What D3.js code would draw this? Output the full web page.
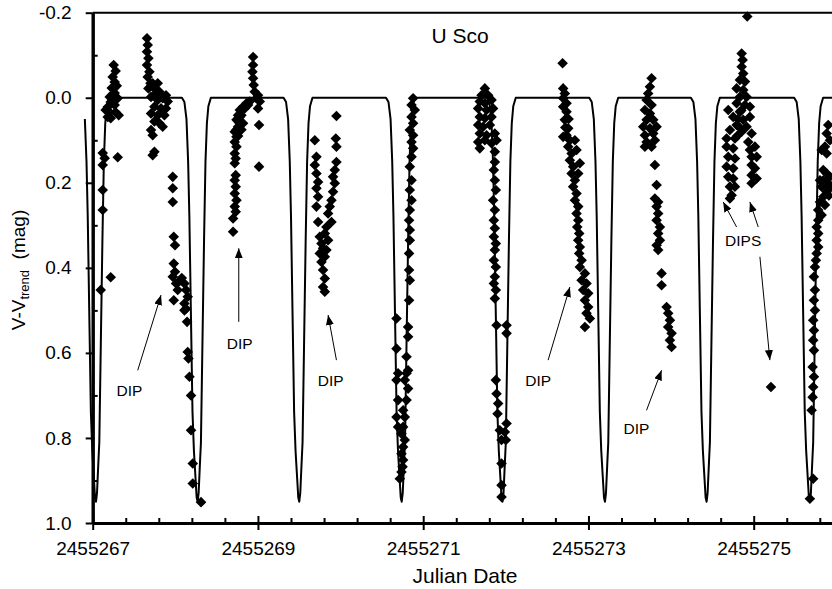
<!DOCTYPE html>
<html>
<head>
<meta charset="utf-8">
<script src="https://cdnjs.cloudflare.com/ajax/libs/d3/7.8.5/d3.min.js"></script>
<style>
body { margin: 0; background: #fff; }
svg { display: block; font-family: "Liberation Sans", Arial, Helvetica, sans-serif; }
</style>
</head>
<body>
<svg id="chart"></svg>
<script>
// all times below are JD - 2455267
var jd0 = 2455267;

var xTicks = [2455267, 2455269, 2455271, 2455273, 2455275];
var yTicks = [-0.2, 0.0, 0.2, 0.4, 0.6, 0.8, 1.0];

// model light curve: times of minimum and the shape of one eclipse [dt, mag]
var minima = [0.04, 1.27, 2.50, 3.74, 4.96, 6.20, 7.43, 8.68, 9.91];
var eclipseShape = [[-0.190,0.00],[-0.160,0.01],[-0.135,0.05],[-0.115,0.15],[-0.100,0.28],[-0.082,0.50],
    [-0.062,0.74],[-0.045,0.83],[-0.030,0.88],[-0.012,0.94],[0,0.95],[0.012,0.93],[0.028,0.86],
    [0.040,0.81],[0.058,0.58],[0.078,0.33],[0.095,0.15],[0.112,0.06],[0.130,0.02],[0.160,0.00]];
var curveStart = -0.1;

// observations [t, V-Vtrend]
var run1 = [[0.254,-0.077],[0.278,-0.063],[0.242,-0.049],[0.266,-0.037],[0.230,-0.023],[0.266,-0.011],[0.206,-0.002],
    [0.303,0.001],[0.218,0.010],[0.182,0.022],[0.266,0.017],[0.278,0.034],[0.206,0.034],[0.157,0.029],[0.315,0.041],
    [0.218,0.048],[0.182,0.045],[0.242,0.005],[0.291,-0.028],
    [0.121,0.130],[0.145,0.142],[0.121,0.158],[0.121,0.217],[0.121,0.264],[0.097,0.452],[0.218,0.422],[0.303,0.140]];
var run2 = [[0.657,-0.140],[0.666,-0.124],[0.657,-0.108],[0.674,-0.093],[0.657,-0.077],[0.686,-0.061],[0.666,-0.049],
    [0.699,-0.034],[0.674,-0.022],[0.726,-0.034],[0.747,-0.022],[0.787,-0.034],[0.766,-0.010],[0.808,-0.014],
    [0.706,-0.002],[0.787,0.005],[0.847,0.001],[0.887,-0.006],[0.908,0.009],[0.747,0.021],[0.827,0.025],[0.887,0.025],
    [0.706,0.037],[0.787,0.041],[0.868,0.041],[0.747,0.056],[0.808,0.060],[0.706,0.076],[0.847,0.068],[0.726,0.088],
    [0.747,0.127],[0.726,0.135],
    [0.969,0.186],[0.969,0.213],[0.969,0.245],[0.981,0.327],[0.996,0.347],[0.981,0.390],[0.996,0.409],[0.969,0.421],
    [1.009,0.437],[0.981,0.476],[1.110,0.437],[1.130,0.452],[1.150,0.468],[1.110,0.484],[1.130,0.496],[1.110,0.500],
    [1.142,0.527],[1.150,0.598],[1.159,0.613],[1.171,0.656],[1.190,0.700],[1.190,0.782],[1.211,0.860],[1.211,0.907],
    [1.311,0.951],[1.053,0.431],[1.078,0.424],[1.029,0.452]];
var run3 = [[1.941,-0.096],[1.941,-0.077],[1.933,-0.061],[1.941,-0.046],[1.949,-0.030],[1.961,-0.014],[1.982,0.001],
    [2.001,-0.006],[2.022,0.009],[2.001,0.025],[2.013,0.064],[2.013,0.162],[1.861,0.013],[1.820,0.021],[1.780,0.029],
    [1.759,0.041],[1.740,0.052],[1.759,0.068],[1.719,0.080],[1.740,0.092],[1.719,0.104],[1.740,0.115],[1.719,0.131],
    [1.731,0.143],[1.719,0.154],[1.731,0.182],[1.719,0.194],[1.731,0.209],[1.719,0.225],[1.740,0.241],[1.719,0.256],
    [1.731,0.268],[1.699,0.284],[1.699,0.315],[1.840,0.025],[1.800,0.041],[1.880,0.017],[1.820,0.060],[1.780,0.060],
    [1.901,0.009],[1.780,0.045],[1.800,0.075],[1.760,0.090],[1.740,0.075]];
var run4 = [[2.950,0.043],[2.942,0.096],[2.950,0.115],[2.688,0.100],[2.708,0.139],[2.688,0.158],[2.708,0.178],
    [2.728,0.198],[2.708,0.213],[2.728,0.233],[2.708,0.256],[2.728,0.292],[2.950,0.151],[2.930,0.170],[2.909,0.186],
    [2.930,0.201],[2.909,0.221],[2.890,0.241],[2.869,0.256],[2.849,0.272],[2.890,0.292],[2.829,0.304],[2.809,0.319],
    [2.748,0.327],[2.769,0.343],[2.788,0.354],[2.748,0.366],[2.809,0.374],[2.769,0.386],[2.788,0.405],[2.809,0.425],
    [2.788,0.445],[2.829,0.358],[2.849,0.335],[2.809,0.456]];
var run5 = [[3.878,0.001],[3.859,0.017],[3.898,0.029],[3.859,0.045],[3.878,0.060],[3.838,0.076],[3.878,0.088],
    [3.859,0.104],[3.878,0.119],[3.859,0.139],[3.838,0.162],[3.859,0.194],[3.838,0.217],[3.859,0.241],[3.838,0.264],
    [3.829,0.288],[3.838,0.311],[3.838,0.335],[3.829,0.366],[3.829,0.405],[3.838,0.429],[3.829,0.476],[3.817,0.539],
    [3.817,0.562],[3.798,0.609],[3.817,0.641],[3.798,0.648],[3.777,0.664],[3.817,0.684],[3.798,0.711],[3.757,0.735],
    [3.777,0.751],[3.757,0.774],[3.737,0.790],[3.777,0.805],[3.757,0.821],[3.737,0.837],[3.757,0.852],[3.750,0.868],
    [3.737,0.880],[3.717,0.896],
    [3.677,0.519],[3.677,0.590],[3.696,0.648],[3.677,0.664],[3.696,0.711],[3.677,0.751],[3.696,0.774]];
var run6 = [[4.746,-0.022],[4.706,-0.006],[4.786,-0.006],[4.685,0.009],[4.746,0.013],[4.827,0.005],[4.665,0.025],
    [4.767,0.029],[4.846,0.025],[4.685,0.045],[4.746,0.048],[4.827,0.045],[4.665,0.064],[4.725,0.068],[4.807,0.064],
    [4.685,0.084],[4.767,0.088],[4.867,0.084],[4.665,0.104],[4.746,0.100],[4.685,0.119],[4.827,0.107],[4.888,0.100],
    [4.867,0.127],[4.867,0.151],[4.855,0.170],[4.867,0.194],[4.879,0.217],[4.846,0.241],[4.867,0.264],[4.855,0.288],
    [4.867,0.307],[4.855,0.327],[4.879,0.343],[4.867,0.358],[4.855,0.382],[4.879,0.398],[4.867,0.421],[4.855,0.437],
    [4.879,0.452],[4.867,0.472],[4.888,0.535],[4.879,0.664],[4.888,0.696],[4.907,0.719],[4.900,0.743],[4.927,0.782],
    [4.948,0.805],[4.948,0.860],[4.948,0.911],[4.948,0.939],
    [5.009,0.535],[5.009,0.554],[5.009,0.766],[4.988,0.786],[5.000,0.805]];
var run7 = [[5.687,-0.081],[5.694,-0.022],[5.714,-0.010],[5.694,0.001],[5.735,0.013],[5.694,0.021],[5.735,0.033],
    [5.714,0.052],[5.755,0.072],[5.735,0.088],[5.775,0.100],[5.755,0.115],[5.796,0.131],[5.775,0.147],[5.815,0.162],
    [5.796,0.178],[5.836,0.194],[5.815,0.209],[5.856,0.225],[5.836,0.241],[5.876,0.256],[5.856,0.272],[5.876,0.288],
    [5.864,0.304],[5.888,0.319],[5.876,0.335],[5.896,0.351],[5.888,0.366],[5.917,0.382],[5.896,0.398],[5.957,0.413],
    [5.917,0.429],[5.977,0.437],[5.936,0.452],[5.997,0.460],[5.957,0.476],[5.997,0.492],[5.977,0.507],[6.017,0.519],
    [5.957,0.539],[5.856,0.123],[5.836,0.100],[5.896,0.154],[5.694,0.092],[5.876,0.178],[5.720,0.070],[5.760,0.050]];
var run8 = [[6.764,-0.046],[6.744,-0.026],[6.723,-0.010],[6.704,0.005],[6.764,0.017],[6.683,0.029],[6.744,0.037],
    [6.704,0.052],[6.784,0.052],[6.663,0.068],[6.744,0.072],[6.683,0.088],[6.784,0.084],[6.704,0.104],[6.804,0.100],
    [6.764,0.115],[6.683,0.115],[6.825,0.068],
    [6.804,0.158],[6.825,0.205],[6.804,0.237],[6.844,0.245],[6.825,0.256],[6.844,0.272],[6.825,0.288],[6.865,0.304],
    [6.844,0.319],[6.865,0.335],[6.825,0.347],[6.844,0.358],[6.885,0.413],[6.885,0.441],[6.946,0.492],[6.965,0.507],
    [6.986,0.523],[6.965,0.539],[7.006,0.554],[6.986,0.570],[7.006,0.586]];
var run9 = [[7.922,-0.191],[7.854,-0.104],[7.866,-0.089],[7.854,-0.073],[7.873,-0.057],[7.833,-0.042],[7.894,-0.038],
    [7.793,-0.022],[7.873,-0.018],[7.833,-0.002],[7.914,-0.002],[7.793,0.013],[7.894,0.017],[7.954,0.021],[7.692,0.029],
    [7.833,0.033],[7.752,0.045],[7.873,0.052],[7.954,0.045],[7.793,0.064],[7.914,0.068],[7.712,0.076],[7.854,0.080],
    [7.975,0.084],[7.672,0.096],[7.773,0.096],[7.934,0.104],[7.672,0.115],[7.752,0.119],[8.015,0.115],[7.954,0.123],
    [7.692,0.139],[7.773,0.143],[7.975,0.139],[8.036,0.139],[7.672,0.162],[7.752,0.166],[7.975,0.158],[8.015,0.166],
    [7.692,0.186],[7.752,0.190],[7.975,0.182],[7.975,0.201],[7.712,0.209],[7.773,0.209],[7.733,0.229],[7.712,0.237],
    [8.036,0.190],[7.810,0.050],[7.830,0.070],[7.850,0.030],[7.800,0.090],[8.209,0.680]];
var run10 = [[8.902,0.064],[8.883,0.084],[8.923,0.100],[8.862,0.115],[8.883,0.131],[8.842,0.170],[8.883,0.178],
    [8.923,0.186],[8.842,0.194],[8.902,0.201],[8.822,0.209],[8.883,0.221],[8.842,0.233],[8.802,0.245],[8.862,0.252],
    [8.781,0.264],[8.822,0.276],[8.781,0.288],[8.762,0.304],[8.781,0.319],[8.762,0.335],[8.781,0.351],[8.762,0.366],
    [8.753,0.382],[8.741,0.398],[8.729,0.421],[8.741,0.452],[8.729,0.476],[8.741,0.500],[8.720,0.523],[8.729,0.547],
    [8.720,0.570],[8.729,0.594],[8.713,0.633],[8.729,0.656],[8.720,0.680],[8.713,0.704],[8.701,0.735],[8.720,0.896],
    [8.680,0.943],[8.822,0.123],[8.802,0.194],[8.930,0.210],[8.910,0.230],[8.870,0.200]];

// labels with arrows [t1, m1, t2, m2] (arrow tail -> head)
var notes = [
    {label: "DIP", t: 0.444, m: 0.688, arrows: [[0.545, 0.641, 0.827, 0.464]]},
    {label: "DIP", t: 1.780, m: 0.578, arrows: [[1.768, 0.527, 1.768, 0.354]]},
    {label: "DIP", t: 2.881, m: 0.664, arrows: [[2.950, 0.617, 2.849, 0.511]]},
    {label: "DIP", t: 5.391, m: 0.664, arrows: [[5.512, 0.617, 5.775, 0.445]]},
    {label: "DIP", t: 6.582, m: 0.778, arrows: [[6.703, 0.735, 6.885, 0.641]]},
    {label: "DIPS", t: 7.873, m: 0.335, arrows: [[7.793, 0.304, 7.631, 0.245], [8.055, 0.304, 7.954, 0.245], [8.075, 0.374, 8.196, 0.617]]}
];

var width = 832, height = 589,
    margin = {top: 12.7, left: 92.7};

var svg = d3.select("#chart").attr("width", width).attr("height", height);

var x = d3.scaleLinear().domain([jd0, jd0 + 10]).range([margin.left, margin.left + 826.25]),
    y = d3.scaleLinear().domain([-0.2, 1.0]).range([margin.top, 523]);

svg.append("defs").append("marker")
    .attr("id", "head")
    .attr("markerUnits", "userSpaceOnUse")
    .attr("markerWidth", 10).attr("markerHeight", 8)
    .attr("refX", 10).attr("refY", 4)
    .attr("orient", "auto")
    .append("path").attr("d", "M0,0L10,4L0,8Z").attr("fill", "#000");

// top frame line
svg.append("line")
    .attr("x1", x(jd0)).attr("x2", x(jd0 + 10))
    .attr("y1", y(-0.2)).attr("y2", y(-0.2))
    .attr("stroke", "#000").attr("stroke-width", 2);

// model curve
var model = [];
minima.forEach(function (t0) {
    eclipseShape.forEach(function (p) {
        if (t0 + p[0] >= curveStart) model.push([t0 + p[0], p[1]]);
    });
});
var line = d3.line()
    .x(function (d) { return x(jd0 + d[0]); })
    .y(function (d) { return y(d[1]); });
svg.append("path")
    .datum(model)
    .attr("d", line)
    .attr("fill", "none")
    .attr("stroke", "#000")
    .attr("stroke-width", 2)
    .attr("stroke-linejoin", "round");

// observations
var obs = [].concat(run1, run2, run3, run4, run5, run6, run7, run8, run9, run10);
var diamond = d3.symbol().type(d3.symbolSquare).size(56);
svg.append("g").selectAll("path")
    .data(obs)
    .enter().append("path")
    .attr("d", diamond)
    .attr("transform", function (d) {
        return "translate(" + x(jd0 + d[0]) + "," + y(d[1]) + ") rotate(45)";
    })
    .attr("fill", "#000");

// axes
var xMinor = d3.range(0, 10.01, 0.4).map(function (d) { return jd0 + d; })
    .filter(function (d) { return Math.abs(d - Math.round(d)) > 0.01 || Math.round(d) % 2 == 0; });
var yMinor = d3.range(-0.1, 1.0, 0.2);

svg.append("g").attr("transform", "translate(0," + y(1.0) + ")")
    .call(d3.axisBottom(x).tickValues(xTicks).tickSize(7).tickSizeOuter(0).tickPadding(12)
        .tickFormat(d3.format("d")));
svg.append("g").attr("transform", "translate(0," + y(1.0) + ")")
    .call(d3.axisTop(x).tickValues(xTicks).tickSize(7).tickSizeOuter(0).tickFormat(""));
svg.append("g").attr("transform", "translate(0," + y(1.0) + ")")
    .call(d3.axisTop(x).tickValues(xMinor).tickSize(5).tickSizeOuter(0).tickFormat(""));

svg.append("g").attr("transform", "translate(" + x(jd0) + ",0)")
    .call(d3.axisLeft(y).tickValues(yTicks).tickSize(7).tickSizeOuter(0).tickPadding(14)
        .tickFormat(function (d) { return d.toFixed(1); }));
svg.append("g").attr("transform", "translate(" + x(jd0) + ",0)")
    .call(d3.axisRight(y).tickValues(yMinor).tickSize(5).tickSizeOuter(0).tickFormat(""));

svg.selectAll(".domain").attr("stroke-width", 3);
svg.selectAll(".tick line").attr("stroke-width", 2);
svg.selectAll(".tick text")
    .attr("font-family", "'Liberation Sans', Arial, sans-serif")
    .attr("font-size", 19).attr("fill", "#000");

// titles
svg.append("text")
    .attr("x", 460).attr("y", 43)
    .attr("text-anchor", "middle")
    .attr("font-size", 21)
    .text("U Sco");

svg.append("text")
    .attr("x", 465).attr("y", 583)
    .attr("text-anchor", "middle")
    .attr("font-size", 21)
    .text("Julian Date");

var yTitle = svg.append("text")
    .attr("transform", "translate(25,270) rotate(-90)")
    .attr("text-anchor", "middle")
    .attr("font-size", 19)
    .style("white-space", "pre");
yTitle.append("tspan").text("V-V");
yTitle.append("tspan").attr("font-size", 13).attr("dy", 4).text("trend");
yTitle.append("tspan").attr("dy", -4).text("  (mag)");

// annotations
var ann = svg.append("g");
notes.forEach(function (n) {
    ann.append("text")
        .attr("x", x(jd0 + n.t)).attr("y", y(n.m))
        .attr("dy", "0.36em")
        .attr("text-anchor", "middle")
        .attr("font-size", 15.5)
        .text(n.label);
    n.arrows.forEach(function (a) {
        ann.append("line")
            .attr("x1", x(jd0 + a[0])).attr("y1", y(a[1]))
            .attr("x2", x(jd0 + a[2])).attr("y2", y(a[3]))
            .attr("stroke", "#000").attr("stroke-width", 1)
            .attr("marker-end", "url(#head)");
    });
});
</script>
</body>
</html>
